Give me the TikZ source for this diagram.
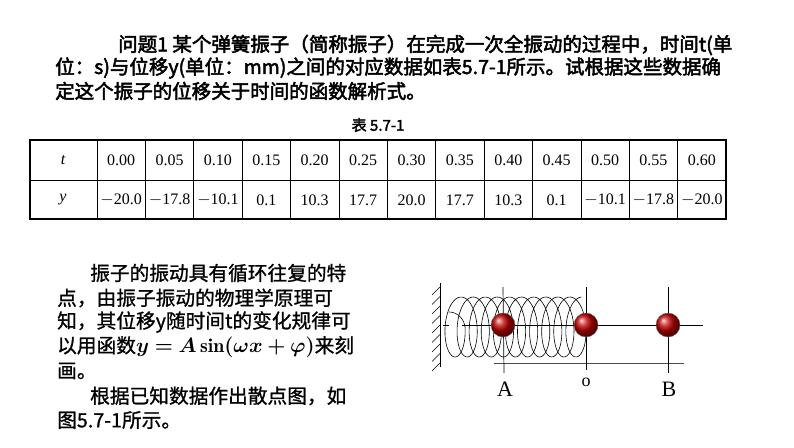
\documentclass[tikz,border=0pt]{standalone}
\usepackage{fontspec}
\usepackage{bm}
\newfontfamily\cjk[AutoFakeBold=2.5]{Noto Sans CJK SC}
\newfontfamily\cjkr[AutoFakeBold=1]{Noto Sans CJK SC}
\newfontfamily\tser{Liberation Serif}
\begin{document}
\begin{tikzpicture}[x=1pt,y=-1pt,
  tl/.style={anchor=west,inner sep=0pt,font=\cjk\bfseries\fontsize{19.5}{19.5}\selectfont},
  pl/.style={anchor=west,inner sep=0pt,font=\cjkr\bfseries\fontsize{19.7}{19.7}\selectfont},
  cell/.style={inner sep=0pt,font=\tser\fontsize{16}{16}\selectfont},
  ballst/.style={circle,minimum size=24pt,inner sep=0pt,ball color=red!75!black,draw=black!60},
  lbl/.style={inner sep=0pt,font=\tser\fontsize{22}{22}\selectfont}]
\useasboundingbox (0,0) rectangle (794,447);
\fill[white] (0,0) rectangle (794,447);
\node[tl] (t1) at (118,45) {问题1 某个弹簧振子（简称振子）在完成一次全振动的过程中，时间t(单};
\node[tl] (t2) at (55,68) {位：s)与位移y(单位：mm)之间的对应数据如表5.7-1所示。试根据这些数据确};
\node[tl] (t3) at (55,91) {定这个振子的位移关于时间的函数解析式。};
\node[inner sep=0pt,font=\cjk\bfseries\fontsize{15}{15}\selectfont] (cap) at (378,125) {表 5.7-1};
% table
\draw[line width=1.4pt] (30,140) rectangle (726,219);
\draw[line width=0.6pt] (30,180) -- (726,180);
\draw[line width=0.6pt] (97,140) -- (97,219);
\foreach \i in {1,...,12} \draw[line width=0.6pt] ({97+48.385*\i},140) -- ({97+48.385*\i},219);
\node[cell,font=\tser\itshape\fontsize{16}{16}\selectfont] (ht) at (63,160) {t};
\node[cell,font=\tser\itshape\fontsize{16}{16}\selectfont] (hy) at (63,200) {y};
\foreach \v [count=\i from 0] in {0.00,0.05,0.10,0.15,0.20,0.25,0.30,0.35,0.40,0.45,0.50,0.55,0.60}
  \node[cell] (c\i) at ({121.2+48.385*\i},160) {\v};
\foreach \v [count=\i from 0] in {$-$20.0,$-$17.8,$-$10.1,0.1,10.3,17.7,20.0,17.7,10.3,0.1,$-$10.1,$-$17.8,$-$20.0}
  \node[cell] (d\i) at ({121.2+48.385*\i},200) {\v};
% paragraph
\node[pl] (p1) at (90,273) {振子的振动具有循环往复的特};
\node[pl] (p2) at (57,298) {点，由振子振动的物理学原理可};
\node[pl] (p3) at (57,322) {知，其位移y随时间t的变化规律可};
\node[pl] (p4) at (57,347) {以用函数$\bm{y=A\sin(\omega x+\varphi)}$来刻};
\node[pl] (p5) at (57,371) {画。};
\node[pl] (p6) at (90,396) {根据已知数据作出散点图，如};
\node[pl] (p7) at (57,420) {图5.7-1所示。};
% spring figure
\draw[line width=1pt] (440,283) -- (440,367);
\foreach \k in {0,...,8} \draw[line width=0.6pt] (440,{287+9.5*\k}) -- (432,{295+9.5*\k});
\draw[line width=0.5pt] (443,325) -- (449,325);
\draw[line width=0.6pt,smooth] plot[domain=0:1,samples=500]
  ({449+133*\x+13*sin(360*11*\x)},{327-30*cos(360*11*\x)*(\x<0.02?0.5:1)});
\draw[line width=0.7pt] (462,325) -- (703,325);
\draw[line width=0.7pt,black!70] (494,363) -- (684,363);
\coordinate (ta) at (503,287); \coordinate (ba) at (504,373);
\coordinate (to) at (586,287); \coordinate (bo) at (586,370);
\coordinate (tb) at (668,287); \coordinate (bb) at (668,373);
\draw[line width=0.7pt] (ta) -- (ba);
\draw[line width=0.7pt] (to) -- (bo);
\draw[line width=0.7pt] (tb) -- (bb);
\node[ballst] (A) at (503,325) {};
\node[ballst] (O) at (586,325) {};
\node[ballst] (B) at (668,325) {};
\node[lbl] (la) at (505,389) {A};
\node[lbl,font=\tser\fontsize{18}{18}\selectfont] (lo) at (586,382) {o};
\node[lbl] (lb) at (669,389) {B};
\end{tikzpicture}
\end{document}
